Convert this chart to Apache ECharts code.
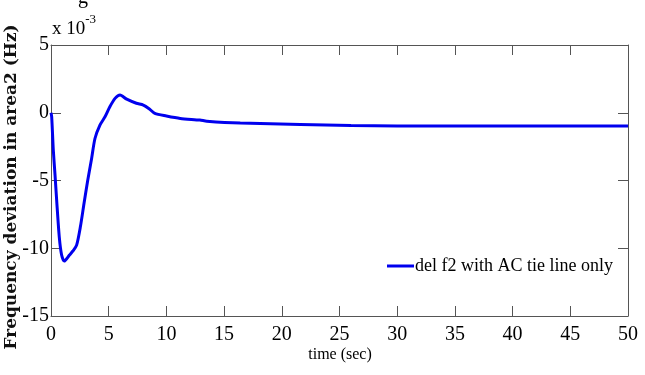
<!DOCTYPE html>
<html><head><meta charset="utf-8">
<script src="https://cdn.jsdelivr.net/npm/echarts@6/dist/echarts.min.js"></script>
<style>html,body{margin:0;padding:0;background:#fff}#c{width:645px;height:375px}</style>
</head><body><div id="c"></div>
<script>
// time (sec)
const timeSec = [0, 0.06, 0.2, 0.35, 0.49, 0.72, 0.92, 1.15, 1.6, 1.9, 2.22, 2.55, 2.86, 3.18, 3.52, 3.81, 4.25, 4.68, 5.1, 5.55, 5.98, 6.56, 7.4, 8.0, 8.5, 9.0, 10.0, 11.2, 12.9, 13.5, 16.4, 21.6, 26, 30, 40, 50];
// frequency deviation in area2 (x 10^-3 Hz)
const delF2 = [0, -0.3, -2.75, -4.6, -6.45, -9.2, -10.5, -10.95, -10.5, -10.2, -9.77, -8.4, -6.7, -5.0, -3.37, -1.9, -0.9, -0.3, 0.44, 1.06, 1.31, 1.0, 0.7, 0.57, 0.3, -0.05, -0.24, -0.42, -0.54, -0.62, -0.76, -0.86, -0.95, -0.97, -0.98, -0.98];
const xTicks = [0, 50, 5];
const yTicks = [-15, 5, 5];
const seriesName = 'del f2 with AC tie line only';

const chart = echarts.init(document.getElementById('c'), null, {renderer: 'canvas'});
const serif = 'Liberation Serif';
const axisCol = '#555';
const common = () => ({
  axisLine: {show: true, onZero: false, lineStyle: {color: axisCol, width: 1}},
  axisTick: {show: true, inside: true, length: 10, lineStyle: {color: axisCol}},
  splitLine: {show: false}
});
chart.setOption({
  animation: false,
  backgroundColor: '#fff',
  grid: {left: 51, right: 17, top: 45, bottom: 59, containLabel: false},
  legend: {
    data: [seriesName], left: 382, top: 252, icon: 'rect', itemWidth: 27, itemHeight: 3,
    textStyle: {fontFamily: serif, fontSize: 18, color: '#000', padding: [0, 0, 0, -4]},
    backgroundColor: 'transparent', borderWidth: 0
  },
  xAxis: [
    Object.assign({type: 'value', position: 'bottom', min: xTicks[0], max: xTicks[1], interval: xTicks[2],
      axisLabel: {fontFamily: serif, fontSize: 20, color: '#000', margin: 9}}, common()),
    Object.assign({type: 'value', position: 'top', min: xTicks[0], max: xTicks[1], interval: xTicks[2],
      axisLabel: {show: false}}, common())
  ],
  yAxis: [
    Object.assign({type: 'value', position: 'left', min: yTicks[0], max: yTicks[1], interval: yTicks[2],
      axisLabel: {fontFamily: serif, fontSize: 20, color: '#000', margin: 2}}, common()),
    Object.assign({type: 'value', position: 'right', min: yTicks[0], max: yTicks[1], interval: yTicks[2],
      axisLabel: {show: false}}, common())
  ],
  series: [{
    name: seriesName, type: 'line', xAxisIndex: 0, yAxisIndex: 0,
    data: timeSec.map((t, i) => [t, delF2[i]]),
    symbol: 'none', smooth: 0.25,
    lineStyle: {color: '#0000ee', width: 3}, itemStyle: {color: '#0000ee'}
  }],
  graphic: [
    {type: 'text', left: 52, top: 13, style: {
      text: '{a|x 10}{b|-3}', fill: '#000',
      rich: {a: {fontFamily: serif, fontSize: 19, verticalAlign: 'bottom', lineHeight: 26},
             b: {fontFamily: serif, fontSize: 13, verticalAlign: 'top', padding: [0, 0, 10, 0]}}
    }},
    {type: 'text', x: 78, y: -12, style: {text: 'g', fontFamily: serif, fontSize: 20, fill: '#000'}},
    {type: 'text', x: 12, y: 187, rotation: Math.PI / 2, style: {
      text: 'Frequency deviation in area2 (Hz)', font: 'bold 17px "DejaVu Serif", serif', fill: '#111',
      align: 'center', verticalAlign: 'middle'}},
    {type: 'text', x: 340, y: 355, style: {
      text: 'time (sec)', fontFamily: serif, fontSize: 16, fill: '#000',
      align: 'center', verticalAlign: 'middle'}}
  ]
});
</script></body></html>
